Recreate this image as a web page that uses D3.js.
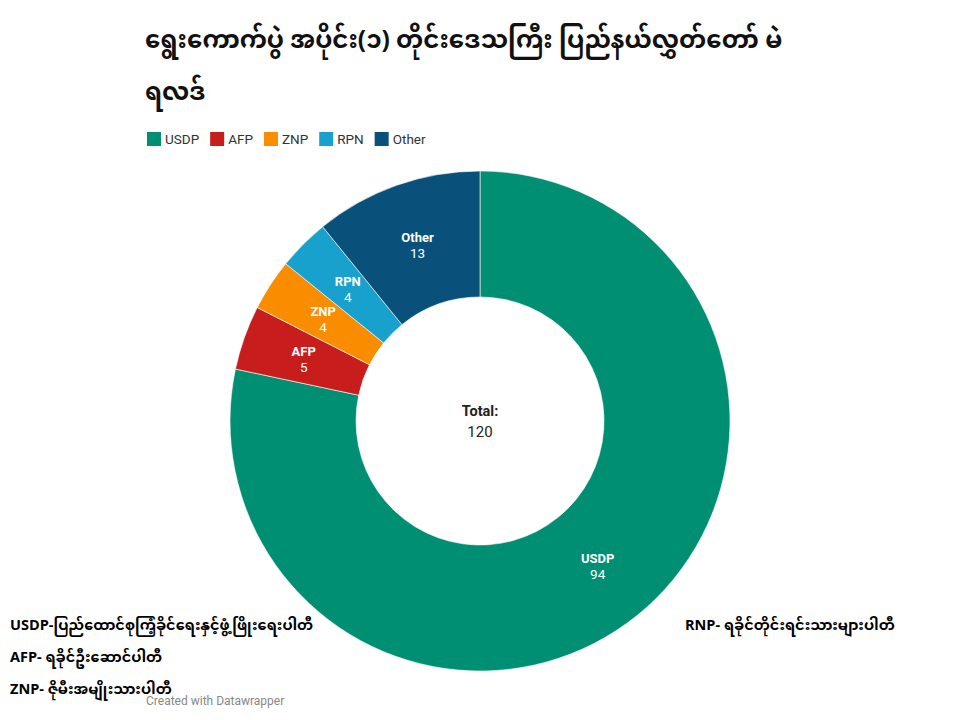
<!DOCTYPE html>
<html>
<head>
<meta charset="utf-8">
<script src="https://cdn.jsdelivr.net/npm/d3@7"></script>
<style>
  body { margin: 0; background: #fff; }
  svg { display: block; }
</style>
</head>
<body>
<svg id="chart" width="960" height="720"></svg>
<script>
const categories = ["USDP", "AFP", "ZNP", "RPN", "Other"];
const seats = [94, 5, 4, 4, 13];
const colors = ["#008f72", "#c71e1d", "#fa8c00", "#18a1cd", "#09517b"];
const titleLines = ["ရွေးကောက်ပွဲ အပိုင်း(၁) တိုင်းဒေသကြီး ပြည်နယ်လွှတ်တော် မဲ", "ရလဒ်"];
const totalLabel = "Total:";
const notesLeft = [
  ["USDP-", "ပြည်ထောင်စုကြံ့ခိုင်ရေးနှင့်ဖွံ့ဖြိုးရေးပါတီ"],
  ["AFP- ", "ရခိုင်ဦးဆောင်ပါတီ"],
  ["ZNP- ", "ဇိုမီးအမျိုးသားပါတီ"]
];
const notesRight = [["RNP- ", "ရခိုင်တိုင်းရင်းသားများပါတီ"]];
const credit = "Created with Datawrapper";

const data = categories.map((c, i) => ({ name: c, value: seats[i], color: colors[i] }));
const total = d3.sum(seats);

const svg = d3.select("#chart");
const myFont = "'Noto Sans Myanmar', 'Padauk', 'Myanmar Text', 'Noto Sans', sans-serif";
const latin = "Roboto, 'Noto Sans', sans-serif";

// Title
const title = svg.append("text")
  .attr("x", 145).attr("y", 48)
  .attr("font-family", myFont)
  .attr("font-weight", "bold")
  .attr("font-size", 24.5)
  .attr("fill", "#111");
titleLines.forEach((t, i) => {
  title.append("tspan").attr("x", 145).attr("y", 48 + i * 52).text(t);
});

// Legend
const legend = svg.append("g").attr("transform", "translate(147,132)");
let lx = 0;
data.forEach(d => {
  const g = legend.append("g").attr("transform", `translate(${lx},0)`);
  g.append("rect").attr("width", 14).attr("height", 14).attr("fill", d.color);
  const t = g.append("text").attr("x", 18).attr("y", 11.5)
    .attr("font-family", latin).attr("font-size", 13.5).attr("fill", "#333").text(d.name);
  lx += 18 + t.node().getComputedTextLength() + 11;
});

// Donut
const cx = 480, cy = 421, rOuter = 250, rInner = 124;
const pie = d3.pie().value(d => d.value).sort(null);
const arc = d3.arc().innerRadius(rInner).outerRadius(rOuter);
const labelArc = d3.arc().innerRadius((rInner + rOuter) / 2).outerRadius((rInner + rOuter) / 2);
const arcs = pie(data);

const g = svg.append("g").attr("transform", `translate(${cx},${cy})`);
g.selectAll("path.slice").data(arcs).join("path")
  .attr("class", "slice")
  .attr("d", arc)
  .attr("fill", d => d.data.color)
  .attr("stroke", "rgba(255,255,255,0.6)")
  .attr("stroke-width", 1);

const lbl = g.selectAll("g.lbl").data(arcs).join("g")
  .attr("class", "lbl")
  .attr("transform", d => `translate(${labelArc.centroid(d)})`);
lbl.append("text")
  .attr("text-anchor", "middle").attr("y", -3)
  .attr("font-family", latin).attr("font-weight", "bold").attr("font-size", 13)
  .attr("fill", "#fff").text(d => d.data.name);
lbl.append("text")
  .attr("text-anchor", "middle").attr("y", 13)
  .attr("font-family", latin).attr("font-size", 13.5)
  .attr("fill", "#fff").text(d => d.data.value);

// Center total
g.append("text").attr("text-anchor", "middle").attr("y", -5)
  .attr("font-family", latin).attr("font-weight", "bold").attr("font-size", 14.5)
  .attr("fill", "#222").text(totalLabel);
g.append("text").attr("text-anchor", "middle").attr("y", 16)
  .attr("font-family", latin).attr("font-size", 15)
  .attr("fill", "#222").text(total);

// Notes
function note(x, y, pair) {
  const t = svg.append("text").attr("x", x).attr("y", y)
    .attr("font-weight", "bold").attr("font-size", 14.5).attr("fill", "#000");
  t.append("tspan").attr("font-family", "'Open Sans', 'Noto Sans', sans-serif").text(pair[0]);
  t.append("tspan").attr("font-family", myFont).text(pair[1]);
}
notesLeft.forEach((p, i) => note(10, 630 + i * 32, p));
notesRight.forEach((p, i) => note(685, 630 + i * 32, p));

// Credit
svg.append("text").attr("x", 146).attr("y", 705)
  .attr("font-family", latin).attr("font-size", 12).attr("fill", "#888").text(credit);
</script>
</body>
</html>
